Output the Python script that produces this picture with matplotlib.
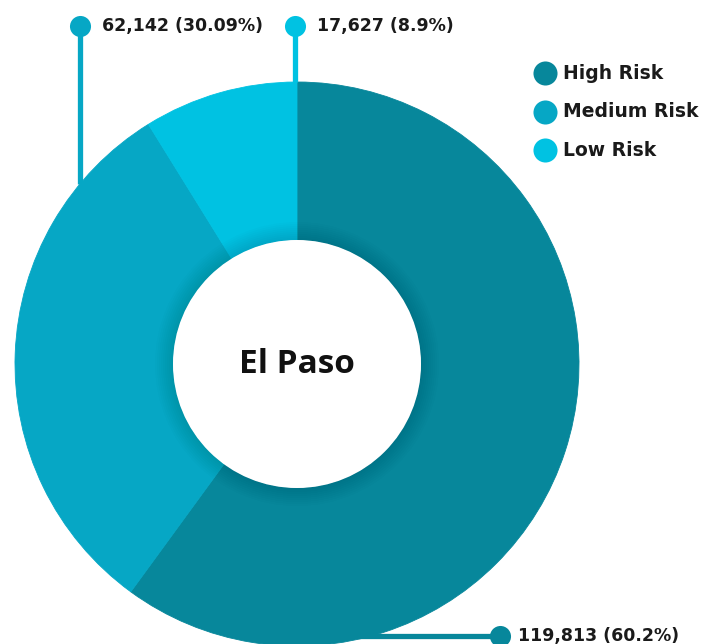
import numpy as np
import matplotlib.pyplot as plt
from matplotlib.patches import Circle

# data
categories = ["High Risk", "Medium Risk", "Low Risk"]
counts = [119813, 62142, 17627]
pct_labels = ["60.2%", "30.09%", "8.9%"]
colors = ["#07879b", "#06a7c5", "#00c2e2"]
center_label = "El Paso"

W, H = 702, 644
cx, cy = 297, H - 364
R, r = 282, 124
FONT = "Open Sans"
WIDE = "DejaVu Sans"

fig = plt.figure(figsize=(W / 100, H / 100), dpi=100)
ax = fig.add_axes([0, 0, 1, 1])

wedges, _ = ax.pie(counts, colors=colors, startangle=90, counterclock=False,
                   radius=R, center=(cx, cy), frame=True,
                   wedgeprops=dict(width=R - r, linewidth=0.6))
for w in wedges:
    w.set_edgecolor(w.get_facecolor())
ax.set_xlim(0, W)
ax.set_ylim(0, H)
ax.set_aspect("equal")
ax.axis("off")

# soft shadow round the hole
for i in range(10):
    ax.add_patch(Circle((cx, cy), r + 2 * i, color="black", alpha=0.01, lw=0, zorder=3))
ax.add_patch(Circle((cx, cy), r, color="white", lw=0, zorder=4))
ax.text(cx, cy, center_label, ha="center", va="center", fontsize=24,
        fontweight="bold", family=FONT, color="#111111", zorder=5)

def label_text(i):
    return f"{counts[i]:,} ({pct_labels[i]})"

# leader lines: medium and low go up, high goes right along the bottom
top_y = H - 26
for i, lx in [(1, 80), (2, 295)]:
    edge_y = cy + np.sqrt(R ** 2 - (lx - cx) ** 2)
    ax.plot([lx, lx], [edge_y, top_y], color=colors[i], lw=3.8, zorder=1,
            solid_capstyle="butt")
    ax.scatter([lx], [top_y], s=230, color=colors[i], zorder=2, lw=0)
    ax.text(lx + 22, top_y, label_text(i), ha="left", va="center", fontsize=12.5,
            fontweight="bold", family=WIDE, color="#1a1a1a")

bot_y = 8
edge_x = cx + np.sqrt(R ** 2 - (cy - bot_y) ** 2)
ax.plot([edge_x - 10, 500], [bot_y, bot_y], color=colors[0], lw=3.8, zorder=1)
ax.scatter([500], [bot_y], s=230, color=colors[0], zorder=2, lw=0)
ax.text(518, bot_y, label_text(0), ha="left", va="center", fontsize=12.5,
        fontweight="bold", family=WIDE, color="#1a1a1a")

# legend
for i, cat in enumerate(categories):
    ly = H - 73 - 38.5 * i
    ax.scatter([545], [ly], s=300, color=colors[i], lw=0, zorder=2)
    ax.text(563, ly, cat, ha="left", va="center", fontsize=13.5,
            fontweight="bold", family=WIDE, color="#1a1a1a")

fig.savefig("out.png", dpi=100, facecolor="white")
